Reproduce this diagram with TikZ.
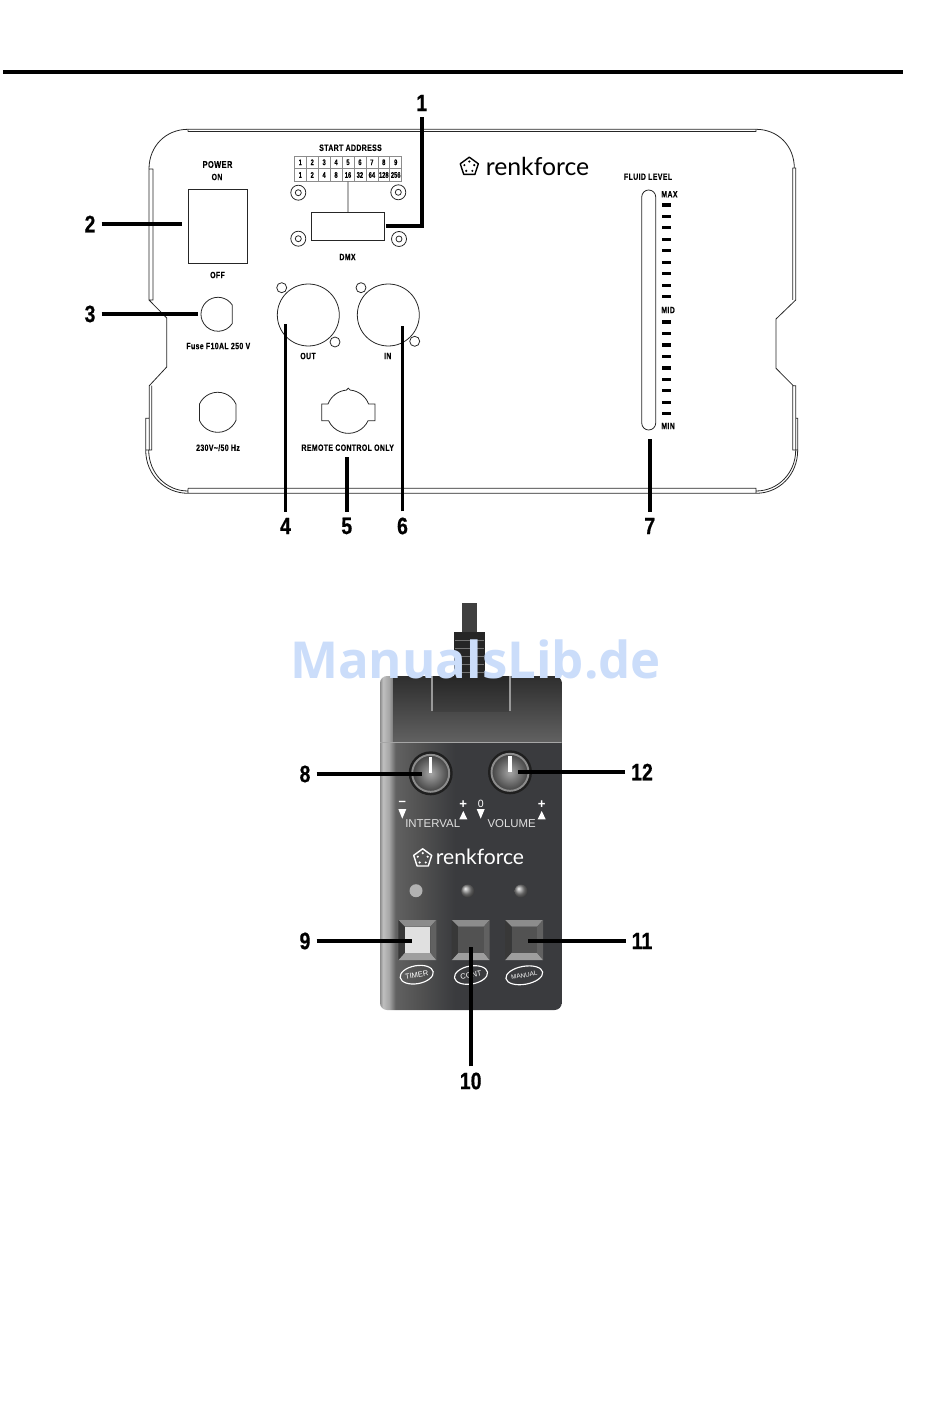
\documentclass[tikz,border=0pt]{standalone}
\usepackage{fontspec}
\setsansfont{Liberation Sans}
\newfontfamily\numfont[FakeStretch=.82,FakeBold=.6]{Liberation Sans Bold}
\newfontfamily\lblfont[FakeStretch=.76,LetterSpace=4,FakeBold=.25]{Liberation Sans Bold}
\newfontfamily\cellfont[FakeStretch=.72,FakeBold=.2]{Liberation Sans Bold}
\newfontfamily\logofont{Lato}
\newfontfamily\markfont{Open Sans Bold}
\usetikzlibrary{shapes.geometric}
\definecolor{markblue}{HTML}{CBDDFA}
\definecolor{slotdark}{HTML}{3A3B3E}
\pgfdeclarehorizontalshading{devbody}{100bp}{
  color(0bp)=(black!45); color(25bp)=(black!45);
  color(25.8bp)=(black!25); color(27.5bp)=(black!35);
  color(29.3bp)=(black!62); color(36bp)=(black!68);
  color(45.6bp)=(slotdark); color(75bp)=(slotdark); color(100bp)=(slotdark)}
\tikzset{
  panel/.style={line width=0.45pt,draw=black!85},
  leader/.style={line width=2.2pt,draw=black},
  num/.style={font=\numfont\fontsize{13.5}{14}\selectfont,inner sep=3.3pt},
  lbl/.style={font=\lblfont\fontsize{5.2}{6}\selectfont,inner sep=0pt},
  addrcell/.style={rectangle,draw=black!45,line width=0.3pt,minimum width=0.2386cm,
    minimum height=0.253cm,inner sep=0pt,font=\cellfont\fontsize{4.6}{5}\selectfont},
  xlr/.style={circle,panel,minimum size=1.24cm,inner sep=0pt},
  hole/.style={circle,panel,minimum size=0.2cm,inner sep=0pt},
  tick/.style={line width=1.9pt,draw=black},
  devtext/.style={font=\sffamily\fontsize{6.5}{7}\selectfont,text=black!12,inner sep=0pt},
  devsign/.style={font=\sffamily\bfseries\fontsize{7.5}{8}\selectfont,text=white,inner sep=0pt},
  modering/.style={ellipse,draw=white,line width=0.65pt,minimum width=0.67cm,minimum height=0.36cm,
    inner sep=0pt,rotate=10,font=\sffamily\fontsize{4.3}{5}\selectfont,text=white},
  renklogo/.pic={
    \draw[line width=0.8pt,line join=round] (-90:9.5) -- (-18:9.5) -- (54:9.5) -- (126:9.5) -- (198:9.5) -- cycle;
    \foreach \ang in {-90,-18,54,126,198} \fill (\ang:5.2) circle[radius=1.2];
  }
}
\begin{document}
\begin{tikzpicture}[x=0.02cm,y=-0.02cm]
    \useasboundingbox (0,0) rectangle (950,1425);
    \draw[line width=2pt] (3,72) -- (903,72);

    % panel outline
    \draw[panel] (188,129.3) -- (756,129.3) .. controls (778,129.3) and (794.3,146) .. (794.3,168)
        (149,169) .. controls (149,146) and (166,129.3) .. (188,129.3)
        (188,131.6) -- (756,131.6);
    \draw[panel] (149,169) -- (149,300) -- (166.7,318) -- (166.7,367) -- (149.3,385.7) -- (149.3,450)
        (153,169) -- (153,300) -- (149,300)
        (149,169) -- (153,169)
        (151.7,385.7) -- (151.7,450) -- (145.7,450) -- (145.7,418.3) -- (149.3,418.3)
        (145.7,450) .. controls (145.7,475) and (165,493.3) .. (188,493.3)
        (148.7,450) .. controls (148.7,473) and (166,491) .. (188,491)
        (188,488.3) -- (188,493.3) -- (756,493.3) .. controls (779,493.3) and (797.7,475) .. (797.7,450)
        (188,488.3) -- (756,488.3) -- (756,493.3)
        (756,491) .. controls (778,491) and (795.7,473) .. (795.7,450)
        (188,129.3) -- (188,131.6) (756,129.3) -- (756,131.6);
    \draw[panel] (792.7,168) -- (795.7,168) -- (795.7,300) -- (776,319) -- (776,368.3) -- (793.3,385.7)
        (792.7,168) -- (792.7,300) (793.3,385.7) -- (795.7,385.7) -- (795.7,450)
        (792.7,385.7) -- (792.7,450) -- (797.7,450) -- (797.7,418.3) -- (795.7,418.3);

    % front controls
    \node[rectangle,panel,minimum width=1.18cm,minimum height=1.486cm] (SW) at (217.8,226.2) {};
    \node[lbl,font=\lblfont\fontsize{5.6}{6}\selectfont] (PW) at (217.5,164.5) {POWER};
    \node[lbl] (ON) at (217,177) {ON};
    \node[lbl] (OFF) at (217.5,275) {OFF};

    \node[lbl,font=\lblfont\fontsize{5.2}{6}\selectfont] (SA) at (350.5,147.8) {START ADDRESS};
    \foreach \c/\valA/\valB in {1/1/1,2/2/2,3/3/4,4/4/8,5/5/16,6/6/32,7/7/64,8/8/128,9/9/256} {
        \node[addrcell] (T\c) at ({294.3+(\c-.5)*11.93},162.3) {\valA};
        \node[addrcell] (B\c) at ({294.3+(\c-.5)*11.93},175) {\valB};
    }
    \node[rectangle,panel,minimum width=1.452cm,minimum height=0.56cm] (DMX) at (348,226.3) {};
    \path[panel] (B5) edge (DMX);
    \node[lbl] (DL) at (347.5,257) {DMX};
    \foreach \x/\y/\n in {298.3/192.7/a,398.3/192.3/b,298.3/238.7/c,399/239/d} {
        \node[hole,minimum size=0.3cm] (S\n) at (\x,\y) {};
        \node[hole,minimum size=0.12cm] at (S\n) {};
    }

    \node[xlr] (OUT) at (308.3,315) {};
    \node[hole] (OH1) at (281.7,287.7) {};
    \node[hole] (OH2) at (335,342) {};
    \node[lbl] (OL) at (308,356) {OUT};
    \node[xlr] (IN) at (388.3,315) {};
    \node[hole] (IH1) at (361,287.7) {};
    \node[hole] (IH2) at (414.7,341.3) {};
    \node[lbl] (IL) at (387.7,356) {IN};

    \draw[panel] (232.3,305.1) arc[start angle=-32.7,end angle=-327.3,radius=17] -- cycle;
    \node[lbl] (FL) at (218.3,346) {Fuse F10AL 250 V};
    \draw[panel] (236,404.2) arc[start angle=-23.8,end angle=-156.2,radius=20] -- (199.4,420.4)
        arc[start angle=156.2,end angle=23.8,radius=20] -- cycle;
    \node[lbl] (VL) at (218,447.7) {230V\textasciitilde/50 Hz};
    \draw[panel] (375,404) -- (368.6,404) arc[start angle=339.2,end angle=275,radius=21.7]
        arc[start angle=0,end angle=-180,radius=1.9]
        arc[start angle=265,end angle=200.8,radius=21.7] -- (321.7,404) -- (321.7,420.7) -- (328.6,420.7)
        arc[start angle=155.4,end angle=24.6,radius=21.7] -- (375,420.7) -- cycle;
    \node[lbl] (RL) at (347.7,447.7) {REMOTE CONTROL ONLY};

    \path (469.3,166.7) pic {renklogo};
    \node[font=\logofont\fontsize{14.1}{16}\selectfont,inner sep=0pt,anchor=base] (LG) at (537.5,175.7) {renkforce};

    % fluid gauge
    \draw[panel] (641.7,197) arc[start angle=180,end angle=360,radius=7] -- (655.7,423)
        arc[start angle=0,end angle=180,radius=7] -- cycle;
    \node[lbl] (FLL) at (648,176.7) {FLUID LEVEL};
    \node[lbl,anchor=west] (MAX) at (661,194.3) {MAX};
    \node[lbl,anchor=west] (MID) at (661,310) {MID};
    \node[lbl,anchor=west] (MIN) at (661,426) {MIN};
    \foreach \y in {205,216.4,227.7,239.3,250.7,262.3,273.7,285.3,296.7,322,333.3,345,356.3,368,379.3,390.7,402.3,413.7}
        \draw[tick] (662,\y) -- (670.7,\y);

    % remote control
    \fill[black!75] (462.3,603) rectangle (476.7,640);
    \fill[black!85] (454.3,632) rectangle (485,677);
    \foreach \y in {640,648,656,664,672} \draw[black!55,line width=0.4pt] (455,\y) -- (484,\y);
    \begin{scope}
        \clip[rounded corners=4pt] (380,676) rectangle (561.7,1010);
        \shade[shading=devbody] (380,676) rectangle (561.7,1010);
        \shade[top color=black!82,bottom color=black!62] (393,676) rectangle (561.7,742);
        \shade[top color=black!85,bottom color=black!75] (433,676) rectangle (509,711);
        \draw[black!40,line width=0.8pt] (432,676) -- (432,711) (510,676) -- (510,711);
        \draw[black!35,line width=0.4pt] (380,742.7) -- (561.7,742.7);
    \end{scope}
    \foreach \x/\y/\n in {430.7/773.3/K,510/772.3/V} {
        \fill[black!88] (\x,\y) circle[radius=22];
        \shade[inner color=black!35,outer color=black!75] (\x,\y) circle[radius=19];
        \draw[black!45,line width=1.1pt] (\x,\y) circle[radius=18.5];
        \draw[white,line width=1.9pt] (\x,\y-16) -- (\x,\y-0.7);
    }
    \foreach \x in {402.3,480.7} \fill[white] (\x-4,809) -- (\x+4,809) -- (\x,818.7) -- cycle;
    \foreach \x in {463.3,541.7} \fill[white] (\x-4,819.3) -- (\x+4,819.3) -- (\x,811) -- cycle;
    \node[devsign] (MI) at (402.3,803.5) {\textendash};
    \node[devsign] (PL) at (463.3,804.3) {+};
    \node[devsign,font=\sffamily\fontsize{6}{7}\selectfont] (ZE) at (480.7,804) {0};
    \node[devsign] (PR) at (541.7,804.3) {+};
    \node[devtext] (INT) at (432.7,823.7) {INTERVAL};
    \node[devtext] (VOL) at (511.7,823.7) {VOLUME};

    \path (422.7,858.3) pic[color=white] {renklogo};
    \node[font=\logofont\fontsize{12}{14}\selectfont,text=white,inner sep=0pt,anchor=base] (LH) at (480,864) {renkforce};

    \fill[black!30] (416,890.7) circle[radius=6.5];
    \shade[ball color=black!45] (467.7,891) circle[radius=6.5];
    \shade[ball color=black!45] (521,891) circle[radius=6.5];

    \foreach \x/\face in {398.3/black!12,451.7/black!68,505/black!68} {
        \fill[black!45] (\x,920) -- (\x+38,920) -- (\x+32,926.7) -- (\x+6.5,926.7) -- cycle;
        \fill[black!38] (\x,960) -- (\x+38,960) -- (\x+32,952.7) -- (\x+6.5,952.7) -- cycle;
        \fill[black!78] (\x,920) -- (\x+6.5,926.7) -- (\x+6.5,952.7) -- (\x,960) -- cycle;
        \fill[black!62] (\x+38,920) -- (\x+32,926.7) -- (\x+32,952.7) -- (\x+38,960) -- cycle;
        \fill[\face] (\x+6.5,926.7) rectangle (\x+32,952.7);
    }
    \node[modering] (TM) at (416.7,974.7) {TIMER};
    \node[modering] (CT) at (471,975) {CONT};
    \node[modering,font=\sffamily\fontsize{3.6}{4}\selectfont] (MN) at (524.3,975.3) {MANUAL};

    \node[text=markblue,font=\markfont\fontsize{29}{30}\selectfont,inner sep=0pt] (WM) at (475.5,659) {ManualsLib.de};

    % numbers and leaders
    \node[num] (N1) at (421.7,103) {1};
    \node[num] (N2) at (90,224) {2};
    \node[num] (N3) at (90,314) {3};
    \node[num] (N4) at (285.5,526) {4};
    \node[num] (N5) at (346.7,526) {5};
    \node[num] (N6) at (402.5,526) {6};
    \node[num] (N7) at (649.7,526) {7};
    \node[num] (N8) at (305,774) {8};
    \node[num] (N9) at (305,941) {9};
    \node[num] (N10) at (470.7,1081) {10};
    \node[num] (N11) at (642,941) {11};
    \node[num] (N12) at (642,772) {12};
    \coordinate (C1) at (386,226);
    \coordinate (C2) at (182,224);
    \coordinate (C3) at (198,314);
    \coordinate (C4) at (285.5,324);
    \coordinate (C5) at (346.7,456.7);
    \coordinate (C6) at (402.5,326);
    \coordinate (C7) at (649.7,439.3);
    \coordinate (C8) at (421.7,774);
    \coordinate (C9) at (411.7,941);
    \coordinate (C10) at (470.7,946.7);
    \coordinate (C11) at (528,941);
    \coordinate (C12) at (518.3,772);
    \draw[leader] (N1) |- (C1);
    \path[leader] (N2) edge (C2);
    \path[leader] (N3) edge (C3);
    \path[leader] (N4) edge (C4);
    \path[leader] (N5) edge (C5);
    \path[leader] (N6) edge (C6);
    \path[leader] (N7) edge (C7);
    \path[leader] (N8) edge (C8);
    \path[leader] (N9) edge (C9);
    \path[leader] (N10) edge (C10);
    \path[leader] (N11) edge (C11);
    \path[leader] (N12) edge (C12);
\end{tikzpicture}
\end{document}
